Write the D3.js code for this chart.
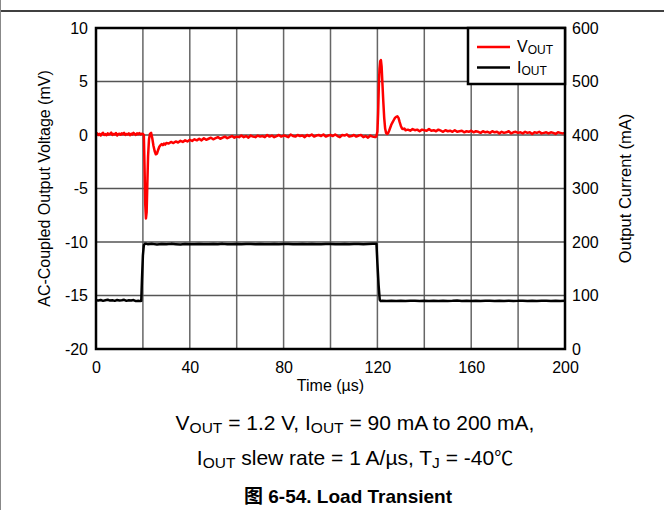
<!DOCTYPE html>
<html><head><meta charset="utf-8">
<script src="https://cdn.jsdelivr.net/npm/d3@7"></script>
<style>body{margin:0;background:#fff}svg{display:block}text{font-family:"Liberation Sans",Arial,sans-serif;fill:#000}</style>
</head><body><svg id="c" width="664" height="510"></svg>
<script>
// ---- data ----
const xTicks = [0, 40, 80, 120, 160, 200];
const xGrid = [0,20,40,60,80,100,120,140,160,180,200];
const yLeftTicks = [10, 5, 0, -5, -10, -15, -20];
const yRightTicks = [600, 500, 400, 300, 200, 100, 0];
const yGrid = [10, 5, 0, -5, -10, -15, -20];

// VOUT (mV) vs time (us)
const vBase1 = [[0,0.05],[0.5,0.15],[1,0.0],[1.5,0.1],[2,-0.05],[2.5,0.12],[3,0.2],[3.5,0.0],[4,0.08],[4.5,-0.02],[5,0.15],[5.5,0.05],[6,0.1],[6.5,0.22],[7,0.0],[7.5,0.1],[8,0.05],[8.5,0.18],[9,-0.05],[9.5,0.1],[10,0.12],[10.5,0.02],[11,0.15],[11.5,0.08],[12,0.2],[12.5,0.0],[13,0.1],[13.5,0.05],[14,0.16],[14.5,-0.02],[15,0.12],[15.5,0.06],[16,0.2],[16.5,0.1],[17,0.0],[17.5,0.15],[18,0.08],[18.5,0.18],[19,0.05],[19.5,0.12]];
const vDrop = [[20.0,0.1],[20.4,0.0],[20.7,-3],[21.0,-6.5],[21.3,-7.8],[21.6,-7.2],[21.9,-4.5],[22.2,-2],[22.6,-0.4],[23.0,0.1],[23.5,0.2],[24.0,-0.3],[24.5,-1.0],[25.0,-1.5],[25.5,-1.8],[26.0,-1.75],[26.5,-1.4],[27.0,-1.1],[27.5,-0.95],[28.0,-0.85],[28.5,-0.95],[29.0,-0.8],[29.5,-0.9],[30.0,-0.75]];
const vMidVals = [-0.8,-0.65,-0.75,-0.6,-0.7,-0.55,-0.65,-0.5,-0.6,-0.45,
 -0.55,-0.4,-0.5,-0.35,-0.5,-0.3,-0.45,-0.35,-0.25,-0.4,
 -0.3,-0.2,-0.35,-0.25,-0.15,-0.3,-0.2,-0.1,-0.25,-0.15,
 -0.2,-0.05,-0.2,-0.1,-0.25,-0.05,-0.15,-0.2,-0.05,-0.15,
 -0.1,-0.2,0.0,-0.15,-0.05,-0.2,-0.1,0.0,-0.15,-0.05,
 -0.1,-0.2,0.05,-0.1,-0.15,0.0,-0.1,-0.05,-0.2,0.0,
 -0.1,0.05,-0.15,-0.05,0.0,-0.1,0.05,-0.15,-0.05,0.0,
 -0.1,0.05,-0.1,-0.2,0.0,-0.05,0.05,-0.15,-0.1,0.0,
 -0.15,-0.05,0.0,-0.2,-0.1,-0.25,-0.05,-0.15,-0.2]; // t = 31..119
const vRise = [[119.5,-0.15],[120.0,0.3],[120.3,2.0],[120.6,4.5],[120.9,6.2],[121.2,6.9],[121.5,7.0],[121.8,6.4],[122.1,5.0],[122.5,3.2],[122.9,1.6],[123.3,0.6],[123.7,0.2],[124.1,0.1],
 [124.5,0.15],[125,0.4],[125.5,0.7],[126,1.0],[126.5,1.2],[127,1.4],[127.5,1.6],[128,1.7],[128.5,1.75],[129,1.6],[129.5,1.2],[130,0.85],[130.5,0.6],[131,0.55],[131.5,0.6],[132,0.45]];
const vEndVals = [0.5,0.4,0.55,0.45,0.5,0.35,0.5,0.45,0.4,0.55,
 0.4,0.45,0.35,0.5,0.4,0.3,0.45,0.35,0.4,0.3,
 0.45,0.3,0.35,0.4,0.25,0.35,0.3,0.4,0.25,0.35,
 0.3,0.2,0.35,0.25,0.3,0.2,0.35,0.25,0.3,0.15,
 0.3,0.2,0.25,0.35,0.15,0.25,0.3,0.2,0.25,0.15,
 0.3,0.2,0.25,0.1,0.25,0.2,0.3,0.15,0.2,0.25,
 0.15,0.25,0.2,0.1,0.25,0.2,0.15,0.2]; // t = 133..200

// IOUT (mA) vs time (us)
const iLow1Vals = [91,90.5,91.5,90,91,92,90.5,91,90,91.5,90.5,91,92,90,91,90.5,91.5,89.5,90,89.5]; // t = 0..19
const iRise = [[19.3,90],[19.6,130],[20.0,175],[20.4,194],[20.8,196.5],[21.5,196.5]];
const iHighVals = [196,196.5,195.5,196.2,195.8,196.5,196,195.5,196.3,196,195.8,196.4,196,195.6,196.2,196,196.5,195.8,196,196.3,195.7,196.1,196.4,195.9,196.2,195.6,196,196.3,195.8,196.1,196.4,196,195.7,196.2,195.9,196.3,196,195.6,196.1,196.4,195.8,196,196.2,195.7,196.1,196.3,195.9,196.2,196.5]; // t = 22..118 step 2
const iFall = [[119.6,196.5],[120.0,160],[120.5,120],[121.0,92],[121.4,89.5]];
const iLow2Vals = [90,89.5,90.2,89.8,90.4,89.6,90,90.3,89.7,90.1,89.5,90.2,89.9,90.4,89.8,90,90.5,89.6,90.2,89.9,90.3,89.7,90,90.4,89.8,90.1,89.6,90.3,89.9,90,90.4,89.7,90.2,89.8,90.1,90.3,89.6,90,89.9,90.2]; // t = 122..200 step 2

const vData = [].concat(vBase1, vDrop, vMidVals.map((v,i)=>[31+i,v]), vRise, vEndVals.map((v,i)=>[133+i,v]));
const iData = [].concat(iLow1Vals.map((v,i)=>[i,v]), iRise, iHighVals.map((v,i)=>[22+2*i,v]), iFall, iLow2Vals.map((v,i)=>[122+2*i,v]));

// ---- drawing ----
const svg = d3.select("#c");
const L = 96, R = 565, T = 28, B = 349;
const x = d3.scaleLinear().domain([0,200]).range([L,R]);
const yV = d3.scaleLinear().domain([-20,10]).range([B,T]);
const yI = d3.scaleLinear().domain([0,600]).range([B,T]);
const fmt = d => String(d);

// page frame
svg.append("line").attr("x1",0).attr("x2",664).attr("y1",11).attr("y2",11).attr("stroke","#000").attr("stroke-width",1.5);
svg.append("line").attr("x1",0.5).attr("x2",0.5).attr("y1",0).attr("y2",510).attr("stroke","#888").attr("stroke-width",1);

// grid
const g = svg.append("g");
g.selectAll(".vg").data(xGrid).join("line").attr("x1",d=>x(d)).attr("x2",d=>x(d)).attr("y1",T).attr("y2",B).attr("stroke","#666").attr("stroke-width",1.5);
g.selectAll(".hg").data(yGrid).join("line").attr("x1",L).attr("x2",R).attr("y1",d=>yV(d)).attr("y2",d=>yV(d)).attr("stroke","#555").attr("stroke-width",1.5);

// axes labels via d3 axes (no tick marks)
const axL = svg.append("g").attr("transform",`translate(${L-4},0)`).call(d3.axisLeft(yV).tickValues(yLeftTicks).tickFormat(fmt).tickSize(0).tickPadding(4));
const axR = svg.append("g").attr("transform",`translate(${R+3},0)`).call(d3.axisRight(yI).tickValues(yRightTicks).tickFormat(fmt).tickSize(0).tickPadding(4));
const axB = svg.append("g").attr("transform",`translate(0,${B+9})`).call(d3.axisBottom(x).tickValues(xTicks).tickFormat(fmt).tickSize(0).tickPadding(4));
[axL,axR,axB].forEach(a=>{a.select(".domain").remove();a.selectAll("text").attr("font-family","Liberation Sans, Arial, sans-serif").attr("font-size",16).attr("fill","#000");});

// series
const lineV = d3.line().x(d=>x(d[0])).y(d=>yV(d[1]));
const lineI = d3.line().x(d=>x(d[0])).y(d=>yI(d[1]));
svg.append("path").datum(iData).attr("d",lineI).attr("fill","none").attr("stroke","#000").attr("stroke-width",2.5).attr("stroke-linejoin","round");
svg.append("path").datum(vData).attr("d",lineV).attr("fill","none").attr("stroke","#ff0000").attr("stroke-width",2.5).attr("stroke-linejoin","round");

// plot frame
svg.append("rect").attr("x",L).attr("y",T).attr("width",R-L).attr("height",B-T).attr("fill","none").attr("stroke","#000").attr("stroke-width",2.5);

// legend
const lg = svg.append("g");
lg.append("rect").attr("x",468).attr("y",T).attr("width",R-468).attr("height",56).attr("fill","#fff").attr("stroke","#000").attr("stroke-width",2.5);
const legend = [{name:"V",sub:"OUT",color:"#ff0000"},{name:"I",sub:"OUT",color:"#000"}];
legend.forEach((d,i)=>{
  const yy = 47 + i*20.5;
  lg.append("line").attr("x1",477).attr("x2",510).attr("y1",yy).attr("y2",yy).attr("stroke",d.color).attr("stroke-width",2.5);
  const t = lg.append("text").attr("x",517).attr("y",yy+5).attr("font-size",16);
  t.append("tspan").text(d.name);
  t.append("tspan").attr("font-size",12).attr("dy",2).text(d.sub);
});

// axis titles
svg.append("text").attr("x",(L+R)/2).attr("y",391).attr("text-anchor","middle").attr("font-size",16).text("Time (µs)");
svg.append("text").attr("transform",`translate(50,${(T+B)/2}) rotate(-90)`).attr("text-anchor","middle").attr("font-size",16).text("AC-Coupled Output Voltage (mV)");
svg.append("text").attr("transform",`translate(631,${(T+B)/2}) rotate(-90)`).attr("text-anchor","middle").attr("font-size",16.5).text("Output Current (mA)");

// captions
const c1 = svg.append("text").attr("x",355).attr("y",430).attr("text-anchor","middle").attr("font-size",21);
c1.append("tspan").text("V");
c1.append("tspan").attr("font-size",15.5).attr("dy",3).text("OUT");
c1.append("tspan").attr("dy",-3).text(" = 1.2 V, I");
c1.append("tspan").attr("font-size",15.5).attr("dy",3).text("OUT");
c1.append("tspan").attr("dy",-3).text(" = 90 mA to 200 mA,");
const c2 = svg.append("text").attr("x",355).attr("y",465).attr("text-anchor","middle").attr("font-size",21);
c2.append("tspan").text("I");
c2.append("tspan").attr("font-size",15.5).attr("dy",3).text("OUT");
c2.append("tspan").attr("dy",-3).text(" slew rate = 1 A/µs, T");
c2.append("tspan").attr("font-size",15.5).attr("dy",3).text("J");
c2.append("tspan").attr("dy",-3).text(" = -40");
c2.append("tspan").style("font-family","'Noto Sans CJK SC',sans-serif").attr("font-size",19).text("℃");
svg.append("text").attr("x",348).attr("y",503).attr("text-anchor","middle").attr("font-size",19).attr("font-weight","bold")
  .style("font-family","'Liberation Sans','Noto Sans CJK SC',sans-serif").text("图 6-54. Load Transient");
</script></body></html>
